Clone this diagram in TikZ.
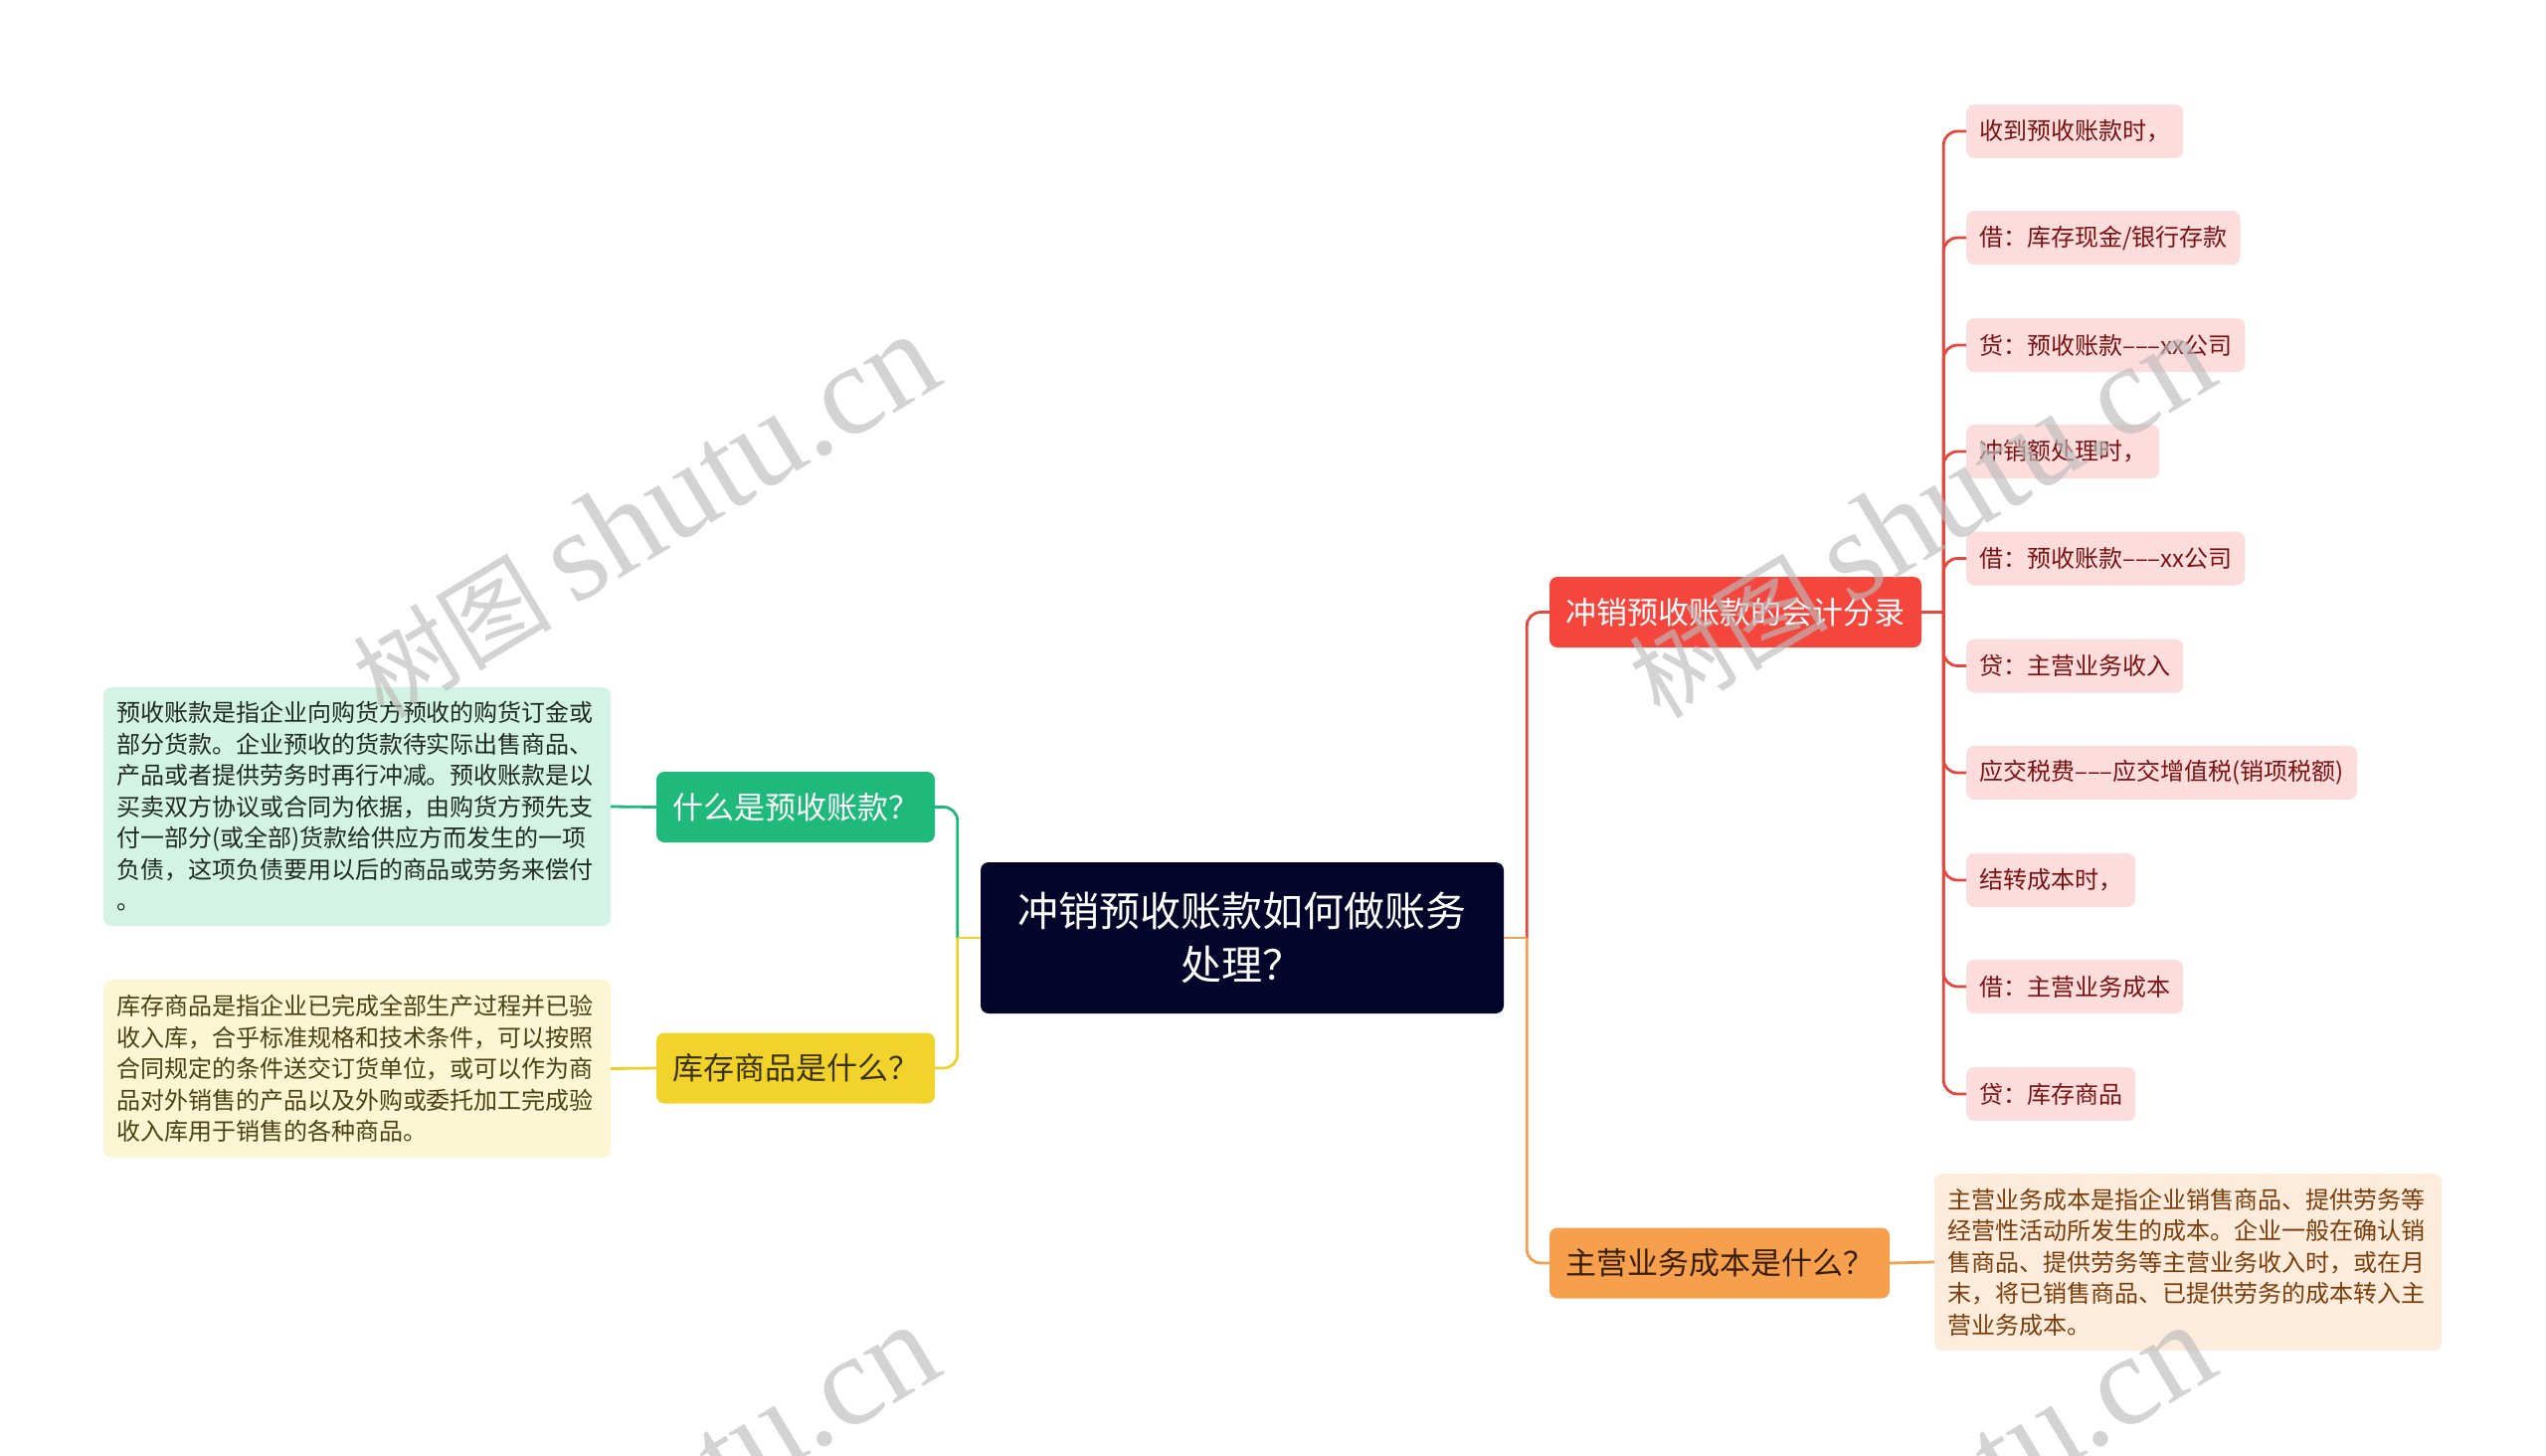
\documentclass[tikz,border=0pt]{standalone}
\usepackage{fontspec}
\setmainfont{Noto Sans CJK SC}
\newfontfamily\wmfont{Liberation Serif}
\usetikzlibrary{calc}
\definecolor{RootNavy}{HTML}{03062A}
\definecolor{QGreen}{HTML}{1FB97B}
\definecolor{QYellow}{HTML}{F2D32B}
\definecolor{QYellowText}{HTML}{3A3200}
\definecolor{QRed}{HTML}{F5463E}
\definecolor{QOrange}{HTML}{F6A04E}
\definecolor{QOrangeText}{HTML}{3A1F05}
\definecolor{NoteGreen}{HTML}{D3F3E6}
\definecolor{NoteGreenText}{HTML}{1F2A24}
\definecolor{NoteYellow}{HTML}{FDF6D5}
\definecolor{NoteYellowText}{HTML}{4A4212}
\definecolor{NoteOrange}{HTML}{FDEBDB}
\definecolor{NoteOrangeText}{HTML}{7A3D0C}
\definecolor{EntryPink}{HTML}{FDDCDC}
\definecolor{EntryText}{HTML}{7B1212}
\definecolor{LinkGreen}{HTML}{1DB97A}
\definecolor{LinkYellow}{HTML}{F0CF2B}
\definecolor{LinkRed}{HTML}{E5473D}
\definecolor{LinkOrange}{HTML}{F0A04F}
\definecolor{WaterGray}{HTML}{BBBBBB}

\begin{document}
\begin{tikzpicture}[x=1pt, y=-1pt,
    box/.style={rounded corners=8pt, inner sep=0pt},
    topic/.style={box, minimum height=71pt, font=\fontsize{31pt}{38pt}\selectfont},
    entry/.style={box, fill=EntryPink, text=EntryText, anchor=west, minimum height=54pt,
      inner xsep=13pt, font=\fontsize{24pt}{30pt}\selectfont},
    note/.style={box, text width=484pt, inner xsep=13pt, align=left,
      font=\fontsize{24pt}{31.5pt}\selectfont},
    link/.style={line width=2.8pt, rounded corners=14pt},
    wmark/.style={text=WaterGray, opacity=0.65, rotate=31,
      font=\fontsize{100pt}{100pt}\selectfont}]
        \useasboundingbox (0,0) rectangle (2560,1464);
        % Root
        \node[box, fill=RootNavy, text=white, minimum width=526pt, minimum height=152pt,
          text width=460pt, align=center, font=\fontsize{41pt}{54pt}\selectfont]
          (root) at (1249,943) {冲销预收账款如何做账务\\处理？};
        % Main topics
        \node[topic, fill=QGreen, text=white, minimum width=280pt] (whatq) at (800,811.5) {什么是预收账款？};
        \node[topic, fill=QYellow, text=QYellowText, minimum width=280pt] (stockq) at (800,1074) {库存商品是什么？};
        \node[topic, fill=QRed, text=white, minimum width=374pt] (entries) at (1745,615.5) {冲销预收账款的会计分录};
        \node[topic, fill=QOrange, text=QOrangeText, minimum width=342pt] (costq) at (1729,1270) {主营业务成本是什么？};
        % Notes
        \node[note, fill=NoteGreen, text=NoteGreenText, minimum height=240pt] (whatnote) at (359,811) {%
          预收账款是指企业向购货方预收的购货订金或\\
          部分货款。企业预收的货款待实际出售商品、\\
          产品或者提供劳务时再行冲减。预收账款是以\\
          买卖双方协议或合同为依据，由购货方预先支\\
          付一部分(或全部)货款给供应方而发生的一项\\
          负债，这项负债要用以后的商品或劳务来偿付\\
          。};
        \node[note, fill=NoteYellow, text=NoteYellowText, minimum height=179pt] (stocknote) at (359,1074.5) {%
          库存商品是指企业已完成全部生产过程并已验\\
          收入库，合乎标准规格和技术条件，可以按照\\
          合同规定的条件送交订货单位，或可以作为商\\
          品对外销售的产品以及外购或委托加工完成验\\
          收入库用于销售的各种商品。};
        \node[note, fill=NoteOrange, text=NoteOrangeText, minimum height=178pt] (costnote) at (2200,1269) {%
          主营业务成本是指企业销售商品、提供劳务等\\
          经营性活动所发生的成本。企业一般在确认销\\
          售商品、提供劳务等主营业务收入时，或在月\\
          末，将已销售商品、已提供劳务的成本转入主\\
          营业务成本。};
        % Journal entries
        \foreach \y/\t [count=\i] in {132/{收到预收账款时，}, 239/{借：库存现金/银行存款},
            347/{货：预收账款–––xx公司}, 454/{冲销额处理时，}, 561.5/{借：预收账款–––xx公司},
            669.5/{贷：主营业务收入}, 777/{应交税费–––应交增值税(销项税额)},
            885/{结转成本时，}, 992/{借：主营业务成本}, 1100/{贷：库存商品}}
          \node[entry] (e\i) at (1977,\y) {\t};
        % Connectors
        \coordinate (lj) at ($(root.west)+(-23,0)$);
        \coordinate (rj) at ($(root.east)+(23,0)$);
        \coordinate (sj) at ($(entries.east)+(22,0)$);
        \draw[link, LinkGreen] (whatq.east) -| (lj);
        \draw[link, LinkYellow] (stockq.east) -| (lj);
        \draw[link, LinkYellow] (lj) -- (root.west);
        \draw[link, LinkRed] (rj) |- (entries.west);
        \draw[link, LinkOrange] (rj) |- (costq.west);
        \draw[link, LinkOrange] (root.east) -- (rj);
        \draw[link, LinkRed] (entries.east) -- (sj);
        \foreach \i in {1,...,10}
          \draw[link, LinkRed] (sj) |- (e\i.west);
        \draw[link, LinkGreen] (whatnote.east) -- (whatq.west);
        \draw[link, LinkYellow] (stocknote.east) -- (stockq.west);
        \draw[link, LinkOrange] (costq.east) -- (costnote.west);
        % Watermarks
        \begin{scope}
          \clip (0,0) rectangle (2560,1464);
          \foreach \wx/\wy [count=\k] in {648/519, 1931/519, 648/1515, 1931/1515}
            \node[wmark] (wm\k) at (\wx,\wy) {树图 {\wmfont\fontsize{130pt}{130pt}\selectfont shutu.cn}};
        \end{scope}
    \end{tikzpicture}
\end{document}
